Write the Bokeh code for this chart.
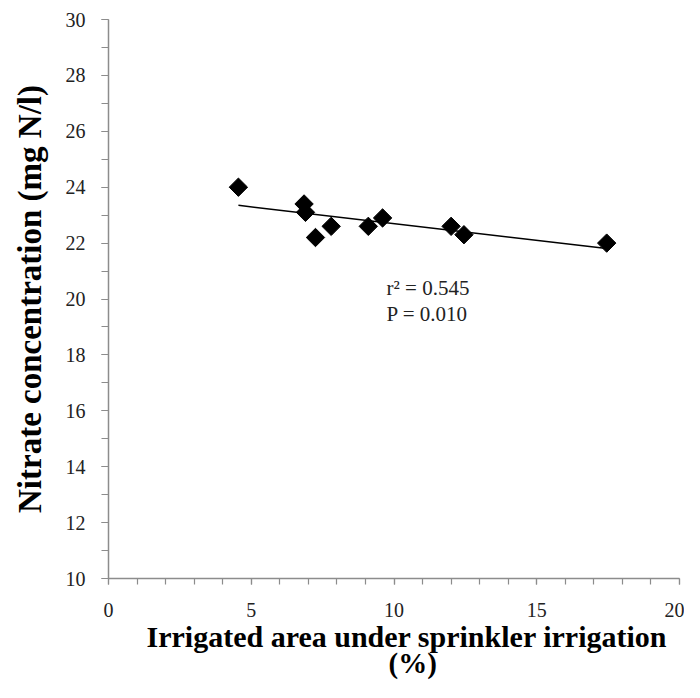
import numpy as np
from bokeh.plotting import figure
from bokeh.models import FixedTicker, Label, Range1d, Title
from bokeh.embed import file_html
from bokeh.resources import INLINE

# Data
irrigated_pct = [4.55, 6.85, 6.9, 7.25, 7.8, 9.1, 9.6, 12.0, 12.45, 17.45]
nitrate_mg_l = [24.0, 23.4, 23.1, 22.2, 22.6, 22.6, 22.9, 22.6, 22.3, 22.0]

x_major_ticks = [0, 5, 10, 15, 20]
x_minor_ticks = list(range(0, 21))
y_major_ticks = [10, 12, 14, 16, 18, 20, 22, 24, 26, 28, 30]
y_minor_ticks = list(range(10, 31))

stat_lines = ["r\u00b2 = 0.545", "P = 0.010"]
x_title_lines = ["Irrigated area under sprinkler irrigation", "(%)"]
y_title = "Nitrate concentration (mg N/l)"

SERIF = "Liberation Serif"
AXIS_GREY = "#8c8c8c"

p = figure(width=684, height=682, output_backend="svg", toolbar_location=None,
           x_range=Range1d(0, 20), y_range=Range1d(10, 30),
           min_border_left=108, min_border_right=5,
           min_border_top=19, min_border_bottom=104)
p.xgrid.visible = False
p.ygrid.visible = False
p.outline_line_color = None
p.background_fill_color = "white"
p.border_fill_color = "white"

# x axis
xa = p.xaxis[0]
xa.ticker = FixedTicker(ticks=x_major_ticks, minor_ticks=x_minor_ticks)
xa.axis_line_color = AXIS_GREY
xa.axis_line_width = 1.5
xa.major_tick_line_color = AXIS_GREY
xa.minor_tick_line_color = AXIS_GREY
xa.major_tick_line_width = 1.2
xa.minor_tick_line_width = 1.2
xa.major_tick_in = 0
xa.major_tick_out = 6
xa.minor_tick_in = 0
xa.minor_tick_out = 6
xa.major_label_text_font = SERIF
xa.major_label_text_font_size = "20px"
xa.major_label_text_color = "#222222"
xa.major_label_standoff = 18

# y axis
ya = p.yaxis[0]
ya.ticker = FixedTicker(ticks=y_major_ticks, minor_ticks=y_minor_ticks)
ya.axis_line_color = AXIS_GREY
ya.axis_line_width = 1.5
ya.major_tick_line_color = AXIS_GREY
ya.minor_tick_line_color = AXIS_GREY
ya.major_tick_line_width = 1.2
ya.minor_tick_line_width = 1.2
ya.major_tick_in = 0
ya.major_tick_out = 7
ya.minor_tick_in = 0
ya.minor_tick_out = 7
ya.major_label_text_font = SERIF
ya.major_label_text_font_size = "20px"
ya.major_label_text_color = "#222222"
ya.major_label_standoff = 16
ya.axis_label = y_title
ya.axis_label_text_font = SERIF
ya.axis_label_text_font_style = "bold"
ya.axis_label_text_font_size = "33px"
ya.axis_label_text_color = "black"
ya.axis_label_standoff = 15

# linear trend line from the data
xs = np.array(irrigated_pct)
ys = np.array(nitrate_mg_l)
slope, intercept = np.polyfit(xs, ys, 1)
fit_x = [xs.min(), xs.max()]
fit_y = [slope * v + intercept for v in fit_x]
p.line(fit_x, fit_y, line_color="black", line_width=1.5)

p.scatter(irrigated_pct, nitrate_mg_l, marker="square", size=13, angle=np.pi / 4,
          fill_color="black", line_color="black")

# statistics annotation
for txt, yv in zip(stat_lines, [20.38, 19.48]):
    p.add_layout(Label(x=9.74, y=yv, text=txt, text_font=SERIF, text_font_size="21px",
                       text_color="#222222", text_align="left", text_baseline="middle"))

# x-axis title (two lines), placed below the axis
t1 = Title(text=x_title_lines[0], align="left", offset=38, standoff=0,
           vertical_align="top", text_font=SERIF, text_font_size="30px",
           text_font_style="bold", text_color="black")
t2 = Title(text=x_title_lines[1], align="left", offset=280, standoff=-16,
           vertical_align="top", text_font=SERIF, text_font_size="29px",
           text_font_style="bold", text_color="black")
p.add_layout(t1, "below")
p.add_layout(t2, "below")

open("out.html", "w").write(file_html(p, INLINE))
